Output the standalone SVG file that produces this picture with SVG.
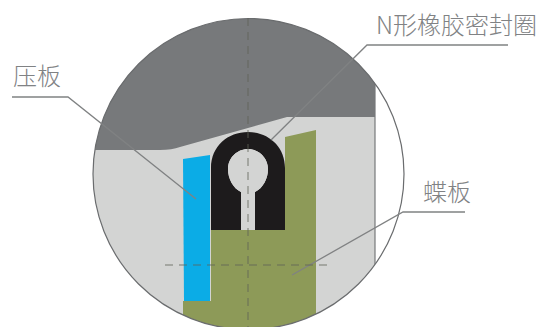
<svg xmlns="http://www.w3.org/2000/svg" width="542" height="327" viewBox="0 0 542 327">
<style>
.lead{fill:none;stroke:#808283;stroke-width:1.3}
.label{font-family:"Noto Sans CJK SC","Liberation Sans",sans-serif;font-weight:300;fill:#808284;font-size:24px}
.axis{fill:none;stroke:#5f6358;stroke-width:1;stroke-dasharray:8 6;opacity:.8}
</style>
<defs><clipPath id="c"><circle cx="248.5" cy="174" r="155.5"/></clipPath></defs>
<rect width="542" height="327" fill="#fff"/>
<g id="housing" clip-path="url(#c)">
<rect x="90" y="15" width="285" height="315" fill="#d3d4d3"/>
<path d="M90 15H375V117H287L180 147Q172 150 160 150H90Z" fill="#77797b"/>
<path d="M375 80V270" fill="none" stroke="#77797b" stroke-width="1.2"/>
</g>
<g id="plate" clip-path="url(#c)">
<path d="M183 330V301H211V230H285V137L316 130V330Z" fill="#8d9a58"/>
</g>
<g id="seal">
<path fill-rule="evenodd" d="M211 230V168C211 146 228 132 248 132C268 132 285 146 285 168V230ZM241 230H255V192C263 188 268 179 268 169C268 158 259 149 248 149C237 149 228 158 228 169C228 179 233 188 241 192Z" fill="#1d1b1c"/>
<path d="M241 230H255V192C263 188 268 179 268 169C268 158 259 149 248 149C237 149 228 158 228 169C228 179 233 188 241 192Z" fill="#d3d4d3"/>
</g>
<g id="presser">
<path d="M183 159L210 155V301H184Z" fill="#0bace6"/>
</g>
<g id="outline">
<circle cx="248.5" cy="174" r="155.5" fill="none" stroke="#6a6c6e" stroke-width="1.2"/>
</g>
<g id="connectors">
<path class="lead" d="M12 97H68L196 199"/>
<path class="lead" d="M508 45H367L271 140"/>
<path class="lead" d="M465 212H403L292 275"/>
<path class="axis" d="M248 18V327"/>
<path class="axis" d="M165 265H332"/>
</g>
<g id="labels">
<text class="label" x="13" y="85">压板</text>
<text class="label" x="376" y="34">N形橡胶密封圈</text>
<text class="label" x="423" y="201">蝶板</text>
</g>
</svg>
